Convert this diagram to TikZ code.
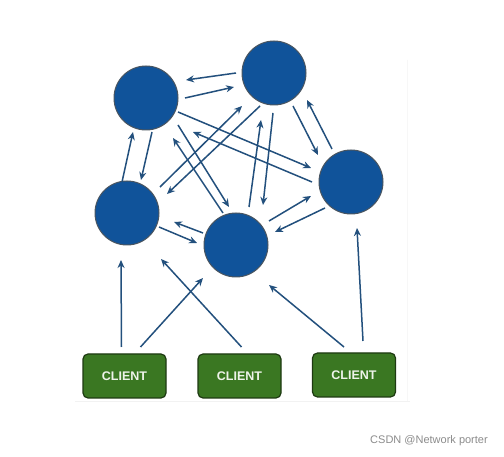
\documentclass[tikz,border=0pt]{standalone}
\usepackage{fontspec}
\setmainfont{Liberation Sans}
\usetikzlibrary{calc,arrows.meta}
\definecolor{nodeblue}{HTML}{10539A}
\definecolor{nodeedge}{HTML}{4A5560}
\definecolor{arrblue}{HTML}{23507D}
\definecolor{clientgreen}{HTML}{3A7722}
\definecolor{clientedge}{HTML}{1E3A12}
\definecolor{clienttext}{HTML}{EEF3EA}
\tikzset{
  server/.style={circle, fill=nodeblue, draw=nodeedge, line width=1pt, minimum size=64pt, inner sep=0pt},
  client/.style={rounded corners=5pt, fill=clientgreen, draw=clientedge, line width=1.2pt, minimum width=83pt, minimum height=44pt, inner sep=0pt, text=clienttext, font=\bfseries\fontsize{12.5}{14}\selectfont},
  arr/.style={draw=arrblue, line width=1.5pt, -{Stealth[length=8pt,width=7pt]}},
  faint/.style={draw=black!5, line width=0.6pt}
}
\begin{document}
\begin{tikzpicture}[x=1pt,y=-1pt]
\useasboundingbox (0,0) rectangle (504,457);
\fill[white] (0,0) rectangle (504,457);
\draw[faint] (75,401) -- (410,401);
\draw[draw=black!3, line width=0.5pt] (407,60) -- (407,401);
% servers
\node[server] (A) at (146,98) {};
\node[server] (B) at (274,73) {};
\node[server] (C) at (127,213) {};
\node[server] (D) at (236,245) {};
\node[server] (E) at (351,182) {};
% clients
\node[client] (K1) at (124.5,376) {CLIENT};
\node[client] (K2) at (239.5,376) {CLIENT};
\node[client] (K3) at (354,375) {CLIENT};
% server-server arrows
\draw[arr] ($(B)+(-38,0)$) -- ($(A)+(40,-18)$);
\draw[arr] ($(A)+(39,0)$) -- ($(B)+(-40,14)$);
\draw[arr] ($(A)+(32,14)$) -- ($(E)+(-40,-14)$);
\draw[arr] ($(E)+(-39,0)$) -- ($(A)+(47,34)$);
\draw[arr] ($(A)+(32,27)$) -- ($(D)+(-7,-38)$);
\draw[arr] ($(D)+(-13,-32)$) -- ($(A)+(27,40)$);
\draw[arr] ($(A)+(6,34)$) -- ($(C)+(14,-33)$);
\draw[arr] ($(C)+(-5,-31)$) -- ($(A)+(-13,34)$);
\draw[arr] ($(C)+(33,-26)$) -- ($(B)+(-32,33)$);
\draw[arr] ($(B)+(-14,33)$) -- ($(C)+(40,-19)$);
\draw[arr] ($(D)+(13,-38)$) -- ($(B)+(-13,47)$);
\draw[arr] ($(B)+(-1,40)$) -- ($(D)+(27,-40)$);
\draw[arr] ($(B)+(19,33)$) -- ($(E)+(-33,-27)$);
\draw[arr] ($(E)+(-19,-33)$) -- ($(B)+(33,27)$);
\draw[arr] ($(D)+(33,-24)$) -- ($(E)+(-40,14)$);
\draw[arr] ($(E)+(-26,26)$) -- ($(D)+(39,-13)$);
\draw[arr] ($(D)+(-33,-12)$) -- ($(C)+(47,9)$);
\draw[arr] ($(C)+(32,14)$) -- ($(D)+(-39,-2)$);
% client arrows
\draw[arr] ($(K1)+(-3,-29)$) -- ($(C)+(-6,47)$);
\draw[arr] ($(K1)+(16,-29)$) -- ($(D)+(-33,33)$);
\draw[arr] ($(K2)+(2,-29)$) -- ($(C)+(34,46)$);
\draw[arr] ($(K3)+(-10,-28)$) -- ($(D)+(33,40)$);
\draw[arr] ($(K3)+(9,-34)$) -- ($(E)+(6,46)$);
% watermark
\node[text=black!45, font=\fontsize{11}{13}\selectfont, anchor=center] (W) at (429,441) {CSDN @Network porter};
\end{tikzpicture}
\end{document}
